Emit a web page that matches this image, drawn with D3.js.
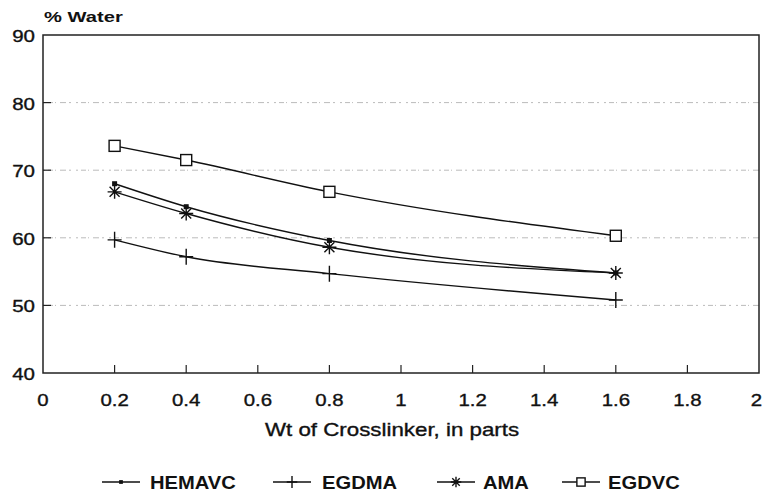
<!DOCTYPE html>
<html><head><meta charset="utf-8">
<script src="https://cdn.jsdelivr.net/npm/d3@7"></script>
<style>body{margin:0;background:#fff}svg{display:block}text{font-family:"Liberation Sans",Arial,sans-serif;fill:#111}</style>
</head><body><svg id="c" width="762" height="493"></svg>
<script>
const xValues = [0.2, 0.4, 0.8, 1.6];
const hemavc = [68.0, 64.6, 59.6, 54.8];
const egdma = [59.7, 57.2, 54.7, 50.8];
const ama = [66.8, 63.6, 58.6, 54.8];
const egdvc = [73.6, 71.5, 66.8, 60.3];
const seriesNames = ["HEMAVC", "EGDMA", "AMA", "EGDVC"];
const xTicks = [0, 0.2, 0.4, 0.6, 0.8, 1, 1.2, 1.4, 1.6, 1.8, 2];
const yTicks = [40, 50, 60, 70, 80, 90];
const gridValues = [50, 60, 70, 80];

const svg = d3.select("#c");
const L = 43, R = 759, T = 35, B = 373;
const x = d3.scaleLinear().domain([0, 2]).range([L, R]);
const y = d3.scaleLinear().domain([40, 90]).range([B, T]);

function stext(g, tx, ty, str, size, sx, anchor, bold) {
  return g.append("text")
    .attr("transform", `translate(${tx},${ty}) scale(${sx},1)`)
    .attr("text-anchor", anchor).attr("font-size", size)
    .attr("font-weight", bold ? "bold" : "normal")
    .attr("stroke", "#111").attr("stroke-width", bold ? 0 : 0.35)
    .text(str);
}

// grid
svg.append("g").selectAll("line").data(gridValues).join("line")
  .attr("x1", L).attr("x2", R).attr("y1", d => y(d)).attr("y2", d => y(d))
  .attr("stroke", "#bbb").attr("stroke-width", 1).attr("stroke-dasharray", "2,3,5,2,1,4,6,3,2,5");

// frame
svg.append("rect").attr("x", L).attr("y", T).attr("width", R - L).attr("height", B - T)
  .attr("fill", "none").attr("stroke", "#222").attr("stroke-width", 1.5);

// x ticks (inward)
svg.append("g").selectAll("line").data(xTicks.slice(1, -1)).join("line")
  .attr("x1", d => x(d)).attr("x2", d => x(d)).attr("y1", B).attr("y2", B - 8)
  .attr("stroke", "#222").attr("stroke-width", 1.2);
const gx = svg.append("g");
xTicks.forEach((d, i) => {
  const last = i === xTicks.length - 1;
  stext(gx, last ? 762 : x(d), 406, d3.format("")(d), 17, 1.2, last ? "end" : "middle", false);
});

// y ticks
svg.append("g").selectAll("line").data(yTicks.slice(1, -1)).join("line")
  .attr("x1", L).attr("x2", L + 8).attr("y1", d => y(d)).attr("y2", d => y(d))
  .attr("stroke", "#222").attr("stroke-width", 1.2);
const gy = svg.append("g");
yTicks.forEach(d => stext(gy, L - 8, y(d) + 7, d, 16, 1.28, "end", false));

stext(svg, 44, 22, "% Water", 15.5, 1.3, "start", true);
stext(svg, 265, 436, "Wt of Crosslinker, in parts", 18, 1.24, "start", false);

const seriesData = [hemavc, egdma, ama, egdvc];
const line = d3.line().x(d => x(d[0])).y(d => y(d[1])).curve(d3.curveMonotoneX);

function marker(g, type, cx, cy, k) {
  if (type === 0) {
    g.append("rect").attr("x", cx - 2.5 * k).attr("y", cy - 2.5 * k).attr("width", 5 * k).attr("height", 5 * k).attr("fill", "#111");
  } else if (type === 1) {
    g.append("path").attr("d", `M${cx - 7 * k},${cy}H${cx + 7 * k}M${cx},${cy - 8 * k}V${cy + 8 * k}`).attr("stroke", "#111").attr("stroke-width", 1.4).attr("fill", "none");
  } else if (type === 2) {
    const r = 7 * k, r2 = 5 * k;
    g.append("path").attr("d", `M${cx - r},${cy}H${cx + r}M${cx},${cy - r}V${cy + r}M${cx - r2},${cy - r2}L${cx + r2},${cy + r2}M${cx - r2},${cy + r2}L${cx + r2},${cy - r2}`)
      .attr("stroke", "#111").attr("stroke-width", 1.4).attr("fill", "none");
  } else {
    g.append("rect").attr("x", cx - 5.5 * k).attr("y", cy - 5.5 * k).attr("width", 11 * k).attr("height", 11 * k).attr("fill", "#fff").attr("stroke", "#111").attr("stroke-width", 1.4);
  }
}

seriesData.forEach((vals, i) => {
  const pts = xValues.map((xv, j) => [xv, vals[j]]);
  svg.append("path").attr("d", line(pts)).attr("fill", "none").attr("stroke", "#111").attr("stroke-width", 1.4);
  const g = svg.append("g");
  pts.forEach(p => marker(g, i, x(p[0]), y(p[1]), 1));
});

// legend
const legLine = [102, 273, 437, 562];
const legText = [150, 322, 483, 608];
const legY = 482;
seriesNames.forEach((name, i) => {
  const g = svg.append("g");
  g.append("line").attr("x1", legLine[i]).attr("x2", legLine[i] + 38).attr("y1", legY).attr("y2", legY).attr("stroke", "#111").attr("stroke-width", 1.3);
  marker(g, i, legLine[i] + 19, legY, 0.75);
  stext(g, legText[i], legY + 6.5, name, 18, 1.12, "start", true);
});
</script></body></html>
